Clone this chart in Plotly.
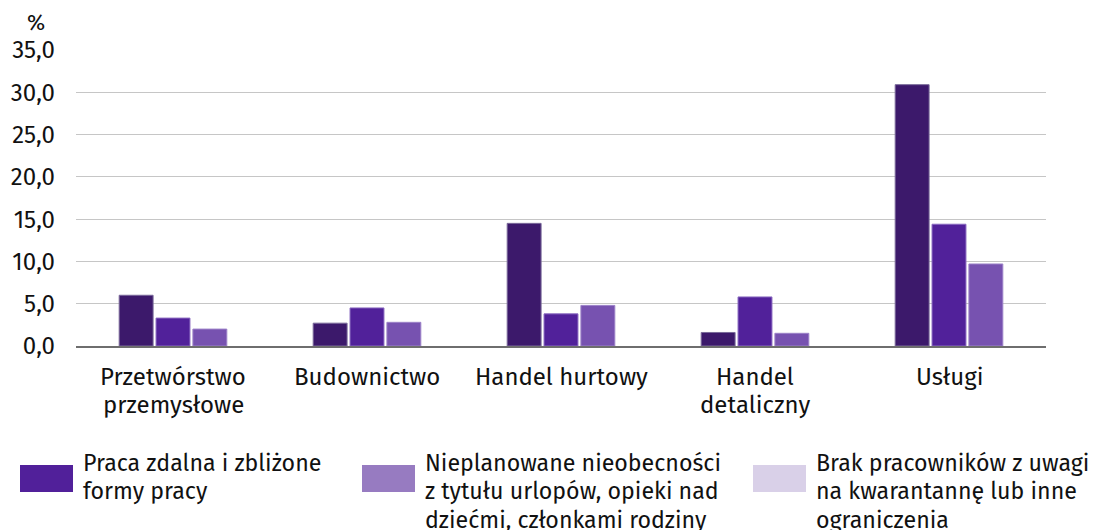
import plotly.graph_objects as go

categories = ["Przetwórstwo przemysłowe", "Budownictwo", "Handel hurtowy", "Handel detaliczny", "Usługi"]
category_lines = [["Przetwórstwo", "przemysłowe"], ["Budownictwo"], ["Handel hurtowy"], ["Handel", "detaliczny"], ["Usługi"]]
series_a = [6.0, 2.7, 14.5, 1.6, 30.9]
series_b = [3.3, 4.5, 3.8, 5.8, 14.4]
series_c = [2.0, 2.8, 4.8, 1.5, 9.7]
bar_colors = ["#3c196b", "#51219a", "#7752b0"]
bar_lines = ["#7a6a9a", "#8a6ac0", "#9c82c8"]
legend_labels = [
    ["Praca zdalna i zbliżone", "formy pracy"],
    ["Nieplanowane nieobecności", "z tytułu urlopów, opieki nad", "dziećmi, członkami rodziny"],
    ["Brak pracowników z uwagi", "na kwarantannę lub inne", "ograniczenia"],
]
legend_colors = ["#51209a", "#977bc1", "#d9d0e8"]
y_ticks = [0, 5, 10, 15, 20, 25, 30, 35]
y_tick_text = ["0,0", "5,0", "10,0", "15,0", "20,0", "25,0", "30,0", "35,0"]

FONT = "Fira Sans, Roboto, sans-serif"
FS = 24
LFS = 23.2
TXT = "#111111"

fig = go.Figure()
for vals, col, lc in zip([series_a, series_b, series_c], bar_colors, bar_lines):
    fig.add_trace(go.Bar(x=categories, y=vals, marker=dict(color=col, line=dict(color=lc, width=1)),
                         showlegend=False, hoverinfo="y"))

# page offset (body margin) = 8px; plot area in screen pixels
OFF = 8
PX0, PX1, PY0, PY1 = 76, 1046, 50, 346
W, H = 1102 - OFF, 530 - OFF
L, T = PX0 - OFF, PY0 - OFF
R = W - (PX1 - OFF)
B = H - (PY1 - OFF)

def px(x):
    return (x - PX0) / (PX1 - PX0)

def py(y):
    return (PY1 - y) / (PY1 - PY0)

shapes = []
annotations = []

# category labels under the axis
for cat, lines in zip(categories, category_lines):
    for i, line in enumerate(lines):
        annotations.append(dict(xref="x", yref="paper", x=cat, y=py(377 + 28 * i),
                                xanchor="center", yanchor="middle", showarrow=False,
                                text=line, font=dict(family=FONT, size=FS, color=TXT)))

# legend
leg_x = [20, 362, 753]
for lx, lab, col in zip(leg_x, legend_labels, legend_colors):
    shapes.append(dict(type="rect", xref="paper", yref="paper",
                       x0=px(lx), x1=px(lx + 53), y0=py(492), y1=py(465),
                       fillcolor=col, line=dict(width=0)))
    for i, line in enumerate(lab):
        annotations.append(dict(xref="paper", yref="paper", x=px(lx + 61), y=py(463 + 28.5 * i),
                                xanchor="left", yanchor="middle", align="left", showarrow=False,
                                text=line, font=dict(family=FONT, size=LFS, color=TXT)))

annotations.append(dict(xref="paper", yref="paper", x=px(36), y=py(22), xanchor="center",
                        yanchor="middle", showarrow=False, text="%",
                        font=dict(family=FONT, size=22, color=TXT)))

fig.update_layout(
    width=W, height=H,
    margin=dict(l=L, r=R, t=T, b=B, pad=0),
    paper_bgcolor="white", plot_bgcolor="white",
    barmode="group", bargap=0.43, bargroupgap=0.08,
    font=dict(family=FONT, size=FS, color=TXT),
    xaxis=dict(showgrid=False, showline=True, linecolor="#6e6e6e", linewidth=2,
               ticks="", showticklabels=False, automargin=False),
    yaxis=dict(range=[0, 35], tickvals=y_ticks, ticktext=y_tick_text,
               showgrid=True, gridcolor="#c6c6c6", gridwidth=1, automargin=False,
               zeroline=False, showline=False, ticks="", ticklabelstandoff=20,
               tickfont=dict(family=FONT, size=FS, color=TXT)),
    shapes=shapes, annotations=annotations,
)
fig.write_html("out.html")
